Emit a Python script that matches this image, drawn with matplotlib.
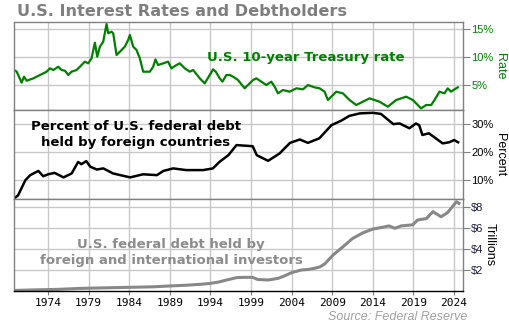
import matplotlib
matplotlib.use("Agg")
import matplotlib.pyplot as plt
import numpy as np

# ---- data (decimal year, value) ----
rate_years = [1969.84, 1970.13, 1970.74, 1971.03, 1971.36, 1972.18, 1973.0, 1973.82, 1974.23, 1974.64,
              1975.25, 1975.66, 1976.07, 1976.48, 1976.89, 1977.51, 1978.12, 1978.53, 1978.94, 1979.35,
              1979.76, 1980.05, 1980.38, 1980.79, 1981.2, 1981.4, 1981.81, 1982.02, 1982.43, 1982.84,
              1983.45, 1983.86, 1984.07, 1984.48, 1984.89, 1985.3, 1985.71, 1986.53, 1986.94, 1987.22,
              1987.55, 1988.17, 1988.78, 1989.19, 1989.81, 1990.22, 1990.83, 1991.45, 1991.86, 1992.68,
              1993.29, 1993.91, 1994.32, 1994.65, 1995.14, 1995.47, 1995.96, 1996.37, 1996.78, 1997.39,
              1998.21, 1998.62, 1999.24, 1999.65, 2000.26, 2000.88, 2001.49, 2001.9, 2002.31, 2002.93,
              2003.75, 2004.57, 2005.39, 2006.0, 2006.82, 2007.44, 2008.05, 2008.46, 2009.49, 2010.31,
              2011.13, 2011.95, 2012.77, 2013.59, 2014.82, 2015.84, 2016.87, 2018.1, 2018.92, 2019.94,
              2020.56, 2021.18, 2021.59, 2022.2, 2022.81, 2023.22, 2023.63, 2024.05, 2024.46]
rate_values = [7.68, 7.38, 5.42, 6.49, 5.77, 6.19, 6.79, 7.38, 7.98, 7.68,
               8.27, 7.68, 7.56, 6.79, 7.38, 7.68, 8.57, 9.17, 8.87, 9.76,
               12.56, 10.06, 11.85, 12.74, 15.9, 14.23, 14.52, 14.23, 10.36, 10.95,
               11.85, 13.04, 13.93, 11.85, 11.25, 9.76, 7.38, 7.38, 8.27, 9.58,
               8.57, 8.87, 9.17, 7.98, 8.57, 8.87, 7.98, 7.38, 7.68, 6.19,
               5.3, 6.79, 7.8, 7.38, 6.19, 5.6, 6.79, 6.79, 6.49, 5.89,
               4.41, 5.0, 5.89, 6.19, 5.6, 5.0, 5.6, 4.7, 3.51, 4.11,
               3.81, 4.41, 4.23, 5.0, 4.58, 4.41, 3.81, 2.32, 3.81, 3.51,
               2.32, 1.43, 2.02, 2.62, 2.02, 1.13, 2.32, 2.92, 2.32, 0.83,
               1.43, 1.43, 2.32, 3.81, 3.51, 4.41, 3.81, 4.23, 4.58]

pct_years = [1969.84, 1970.3, 1971.2, 1971.8, 1972.8, 1973.4, 1974.0, 1974.8, 1975.9, 1976.9,
             1977.7, 1978.1, 1978.7, 1979.2, 1980.0, 1980.8, 1982.0, 1984.1, 1985.7, 1987.4,
             1988.2, 1989.4, 1991.0, 1993.1, 1994.3, 1995.1, 1996.2, 1997.2, 1999.2, 1999.7,
             2001.1, 2002.5, 2003.8, 2005.0, 2006.0, 2007.4, 2008.9, 2010.1, 2011.1, 2012.4,
             2014.0, 2015.0, 2016.5, 2017.3, 2018.5, 2019.3, 2019.7, 2020.1, 2020.9, 2022.6,
             2023.4, 2024.0, 2024.5]
pct_values = [3.5, 4.6, 10.0, 11.8, 13.3, 11.4, 12.1, 12.6, 11.0, 12.4,
              16.5, 15.7, 16.8, 14.8, 13.8, 14.2, 12.4, 11.0, 12.1, 11.8,
              13.3, 14.2, 13.6, 13.6, 14.2, 16.5, 18.9, 22.5, 22.1, 18.9,
              16.9, 19.5, 23.3, 24.5, 23.3, 24.9, 29.6, 31.2, 32.9, 33.8,
              34.0, 33.6, 30.0, 30.2, 28.5, 30.2, 29.6, 26.1, 26.7, 23.1,
              23.5, 24.3, 23.5]

debt_years = [1969.84, 1972.0, 1975.0, 1978.0, 1981.0, 1984.0, 1987.0, 1989.0, 1991.0, 1993.0,
              1994.0, 1995.0, 1996.0, 1997.2, 1998.0, 1999.2, 1999.8, 2001.1, 2002.3, 2003.0,
              2004.0, 2005.2, 2006.0, 2006.8, 2007.5, 2008.1, 2009.1, 2010.3, 2011.5, 2012.8,
              2014.0, 2015.2, 2016.0, 2016.7, 2017.5, 2018.9, 2019.5, 2020.6, 2021.0, 2021.4,
              2022.4, 2023.2, 2023.8, 2024.3, 2024.6]
debt_values = [0.05, 0.1, 0.15, 0.25, 0.3, 0.35, 0.4, 0.48, 0.55, 0.65,
               0.73, 0.85, 1.05, 1.27, 1.3, 1.3, 1.1, 1.05, 1.2, 1.4,
               1.75, 2.0, 2.05, 2.16, 2.3, 2.6, 3.43, 4.2, 5.0, 5.55,
               5.9, 6.07, 6.2, 5.97, 6.2, 6.3, 6.76, 6.9, 7.24, 7.55,
               7.07, 7.46, 8.03, 8.5, 8.35]

xtick_years = [1974, 1979, 1984, 1989, 1994, 1999, 2004, 2009, 2014, 2019, 2024]
rate_ticks = [5, 10, 15]
pct_ticks = [10, 20, 30]
debt_ticks = [2, 4, 6, 8]

W, H = 510, 325
fig = plt.figure(figsize=(W / 100, H / 100), dpi=100)
gs = fig.add_gridspec(3, 1, left=14 / W, right=463 / W, top=1 - 22 / H, bottom=1 - 291 / H,
                      height_ratios=[88, 89, 92], hspace=0)
axes = [fig.add_subplot(gs[i]) for i in range(3)]

grid_c = "#c8c8c8"
spine_c = "#808080"
tickfont = dict(family="Liberation Sans", size=8)

def style(ax, yt, ylim, fmt, tcolor, label, lcolor):
    ax.set_xlim(1969.8, 2025.1)
    ax.set_ylim(*ylim)
    ax.set_xticks(xtick_years)
    ax.set_yticks(yt)
    ax.set_yticklabels([fmt(v) for v in yt], fontdict=tickfont, color=tcolor)
    ax.yaxis.tick_right()
    ax.yaxis.set_label_position("right")
    ax.tick_params(axis="y", length=5, color=spine_c, pad=1)
    ax.grid(True, color=grid_c, linewidth=1)
    ax.set_axisbelow(True)
    for s in ax.spines.values():
        s.set_color(spine_c)
        s.set_linewidth(1)
    ax.set_ylabel(label, rotation=270, fontdict=dict(family="Liberation Sans", size=9),
                  color=lcolor, labelpad=0, va="bottom")

# top: rate
ax = axes[0]
ax.plot(rate_years, rate_values, color="#008000", linewidth=1.6)
style(ax, rate_ticks, (0.54, 16.25), lambda v: f"{v}%", "#008000", "Rate", "#008000")
ax.tick_params(axis="x", length=0, labelbottom=False)
ax.text(0.65, 0.6, "U.S. 10-year Treasury rate", transform=ax.transAxes, ha="center", va="center",
        color="#008000", fontsize=9.5, fontweight="bold", family="DejaVu Sans")

# middle: percent
ax = axes[1]
ax.plot(pct_years, pct_values, color="#000000", linewidth=1.8)
style(ax, pct_ticks, (3.3, 35.0), lambda v: f"{v}%", "#000000", "Percent", "#000000")
ax.tick_params(axis="x", length=0, labelbottom=False)
ax.text(0.271, 0.73, "Percent of U.S. federal debt\nheld by foreign countries", transform=ax.transAxes,
        ha="center", va="center", color="#000000", fontsize=9.5, fontweight="bold",
        family="DejaVu Sans", linespacing=1.3)

# bottom: debt
ax = axes[2]
ax.plot(debt_years, debt_values, color="#888888", linewidth=2.2)
style(ax, debt_ticks, (0, 8.76), lambda v: f"${v}", "#1a1a3a", "Trillions", "#000000")
ax.spines["bottom"].set_color("#000000")
ax.tick_params(axis="x", length=3, color=spine_c, pad=2)
ax.set_xticklabels([str(y) for y in xtick_years], fontdict=dict(family="DejaVu Sans Mono", size=8))
ax.text(0.35, 0.42, "U.S. federal debt held by\nforeign and international investors", transform=ax.transAxes,
        ha="center", va="center", color="#8c8c8c", fontsize=9.5, fontweight="bold",
        family="DejaVu Sans", linespacing=1.3)

fig.text(17 / W, 1 - 11 / H, "U.S. Interest Rates and Debtholders", ha="left", va="center",
         color="#7f7f7f", fontsize=11.6, fontweight="bold", family="DejaVu Sans")
fig.text(467 / W, 1 - 317 / H, "Source: Federal Reserve", ha="right", va="center",
         color="#a0a0a0", fontsize=9, style="italic", family="Liberation Sans")

fig.savefig("out.png", dpi=100)
